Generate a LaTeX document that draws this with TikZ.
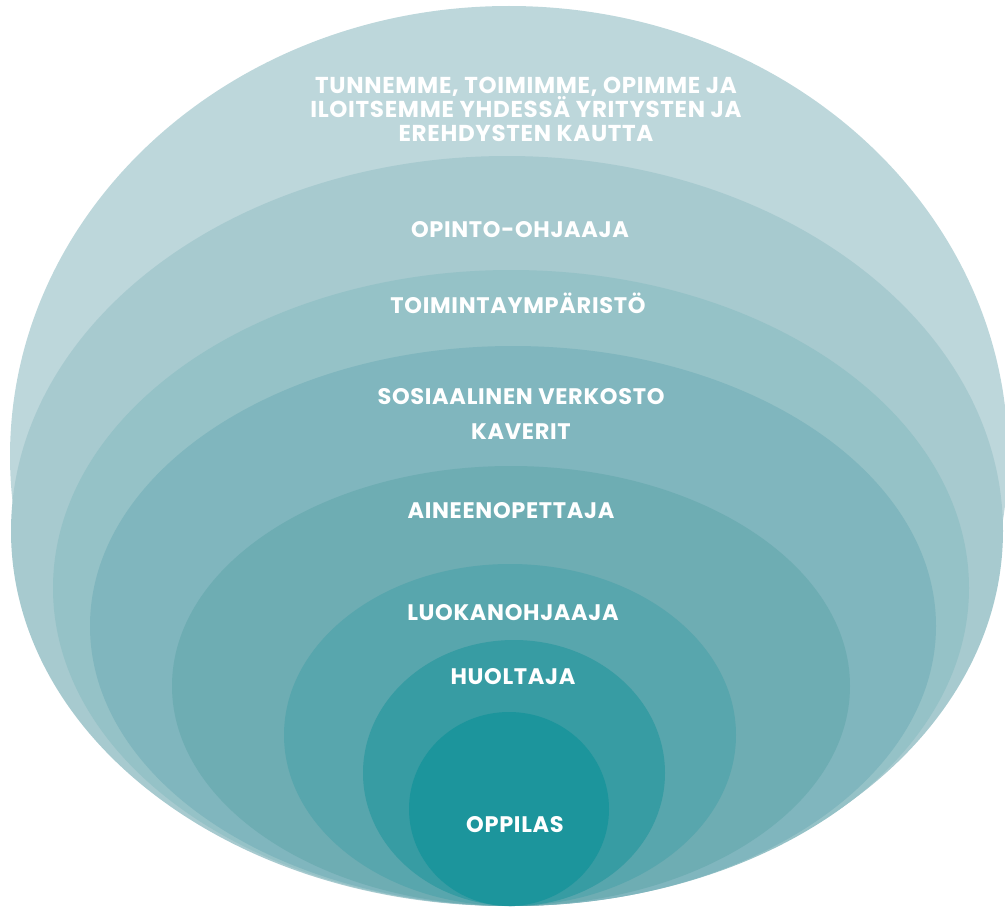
\documentclass[tikz,border=0pt]{standalone}
\usepackage{fontspec}
\setmainfont{Poppins}
\newfontfamily\ringfont{Poppins}[LetterSpace=3]
\usetikzlibrary{shapes.geometric, positioning}
\definecolor{ringA}{HTML}{BDD7DB}
\definecolor{ringB}{HTML}{A7CACF}
\definecolor{ringC}{HTML}{95C2C7}
\definecolor{ringD}{HTML}{80B6BE}
\definecolor{ringE}{HTML}{6EADB3}
\definecolor{ringF}{HTML}{58A6AD}
\definecolor{ringG}{HTML}{379CA3}
\definecolor{ringH}{HTML}{1C959C}
\tikzset{
    ring/.style={ellipse, draw=none, inner sep=0pt},
    lbl/.style={text=white, inner sep=0pt, anchor=base,
      font=\ringfont\bfseries\fontsize{22.5}{24}\selectfont},
}

\begin{document}
\begin{tikzpicture}[x=1pt, y=-1pt]
    \useasboundingbox (0,0) rectangle (1005,907);

    % rings, outermost first
    \node[ring, fill=ringA, minimum width=998pt, minimum height=900pt] (yhdessa) at (509,456) {};
    \node[ring, fill=ringB, minimum width=992pt, minimum height=750pt] (opo) at (507,531) {};
    \node[ring, fill=ringC, minimum width=916pt, minimum height=636pt] (ymparisto) at (511,588) {};
    \node[ring, fill=ringD, minimum width=846pt, minimum height=560pt] (verkosto) at (513,626) {};
    \node[ring, fill=ringE, minimum width=678pt, minimum height=440pt] (aineopo) at (511,686) {};
    \node[ring, fill=ringF, minimum width=452pt, minimum height=342pt] (luokanohj) at (510,735) {};
    \node[ring, fill=ringG, minimum width=302pt, minimum height=266pt] (huoltaja) at (514,773) {};
    \node[ring, fill=ringH, minimum width=200pt, minimum height=194pt] (oppilas) at (509,809) {};

    % labels
    \node[lbl, align=center, anchor=north, font=\ringfont\bfseries\fontsize{23}{24}\selectfont]
      (t-yhdessa) at (526,77)
      {TUNNEMME, TOIMIMME, OPIMME JA\\ILOITSEMME YHDESSÄ YRITYSTEN JA\\EREHDYSTEN KAUTTA};
    \node[lbl] (t-opo) at (520,237) {OPINTO-OHJAAJA};
    \node[lbl] (t-ymparisto) at (518,313) {TOIMINTAYMPÄRISTÖ};
    \node[lbl] (t-verkosto) at (521,404) {SOSIAALINEN VERKOSTO};
    \node[lbl] (t-kaverit) at (521,439) {KAVERIT};
    \node[lbl] (t-aineopo) at (511,518) {AINEENOPETTAJA};
    \node[lbl] (t-luokanohj) at (513,620) {LUOKANOHJAAJA};
    \node[lbl] (t-huoltaja) at (513,684) {HUOLTAJA};
    \node[lbl] (t-oppilas) at (515,832) {OPPILAS};
\end{tikzpicture}
\end{document}
